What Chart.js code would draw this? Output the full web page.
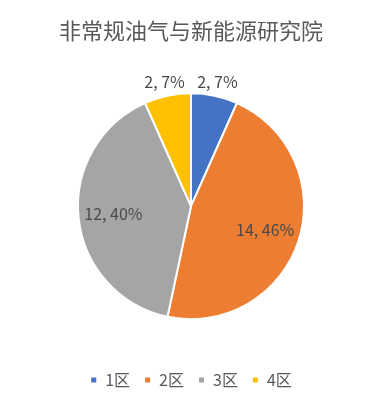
<!DOCTYPE html>
<html>
<head>
<meta charset="utf-8">
<script src="https://cdn.jsdelivr.net/npm/chart.js@4/dist/chart.umd.min.js"></script>
<style>
  html, body { margin: 0; padding: 0; background: #fff; }
  #wrap { width: 382px; height: 408px; }
</style>
</head>
<body>
<div id="wrap"><canvas id="chart" width="382" height="408"></canvas></div>
<script>
const title = '非常规油气与新能源研究院';
const categories = ['1区', '2区', '3区', '4区'];
const values = [2, 14, 12, 2];
const percentLabels = ['7%', '46%', '40%', '7%'];
const colors = ['#4472C4', '#ED7D31', '#A5A5A5', '#FFC000'];

const FONT = "'Noto Sans CJK SC', 'Noto Sans', sans-serif";

// data labels: small slices outside the pie, the rest inside
const sliceLabels = {
  id: 'sliceLabels',
  afterDatasetsDraw(chart) {
    const ctx = chart.ctx;
    const meta = chart.getDatasetMeta(0);
    const total = values.reduce((a, b) => a + b, 0);
    ctx.save();
    ctx.font = `16px ${FONT}`;
    ctx.fillStyle = '#4a4a4a';
    ctx.textAlign = 'center';
    ctx.textBaseline = 'middle';
    meta.data.forEach((arc, i) => {
      const p = arc.getProps(['x', 'y', 'startAngle', 'endAngle', 'outerRadius'], true);
      const mid = (p.startAngle + p.endAngle) / 2;
      const r = values[i] / total < 0.1 ? p.outerRadius + 14 : p.outerRadius * 0.69;
      const tx = p.x + Math.cos(mid) * r;
      const ty = p.y + Math.sin(mid) * r;
      ctx.fillText(`${values[i]}, ${percentLabels[i]}`, tx, ty);
    });
    ctx.restore();
  }
};

new Chart(document.getElementById('chart'), {
  type: 'pie',
  data: {
    labels: categories,
    datasets: [{
      data: values,
      backgroundColor: colors,
      borderColor: '#fff',
      borderWidth: 2,
      radius: 113,
    }],
  },
  options: {
    responsive: false,
    animation: false,
    layout: { padding: { bottom: 10 } },
    plugins: {
      title: {
        display: true,
        text: title,
        color: '#595959',
        font: { family: FONT, size: 22, weight: 'normal' },
        padding: { top: 17, bottom: 11 },
      },
      legend: {
        position: 'bottom',
        labels: {
          color: '#595959',
          font: { family: FONT, size: 16 },
          boxWidth: 7,
          boxHeight: 7,
          padding: 14,
        },
      },
      tooltip: { enabled: false },
    },
  },
  plugins: [sliceLabels],
});
</script>
</body>
</html>
